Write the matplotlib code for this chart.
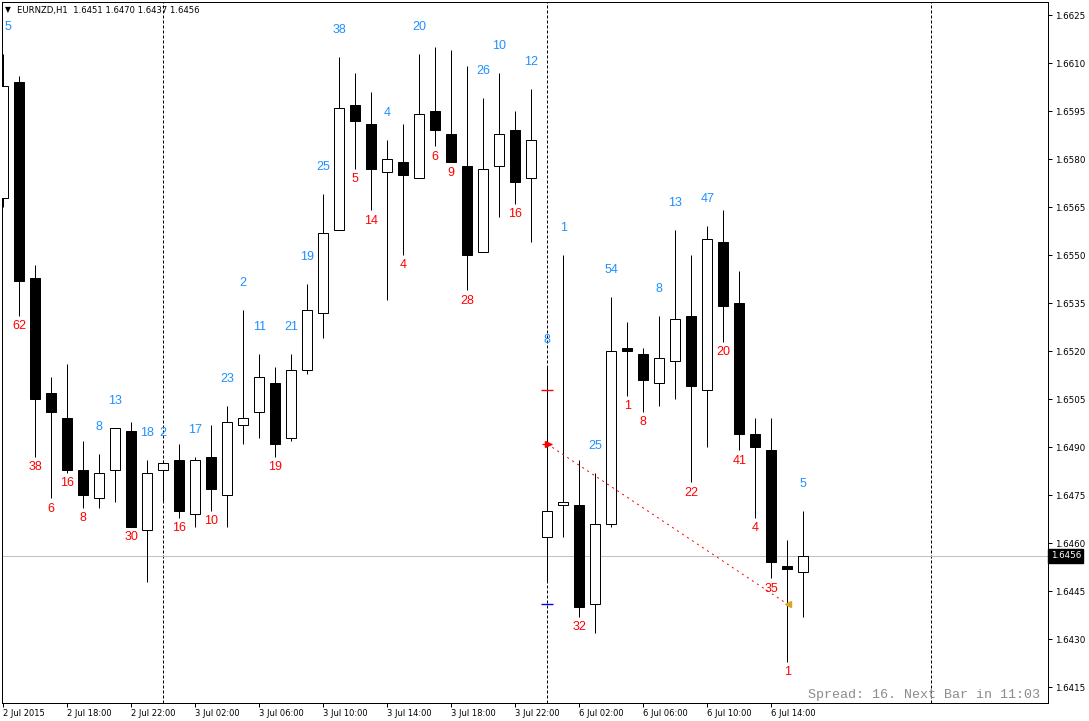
import matplotlib
matplotlib.use("Agg")
import matplotlib.pyplot as plt
import matplotlib.transforms as mtransforms

# ---------------- data ----------------
opens = [1.6568, 1.6604, 1.6543, 1.6507, 1.6499, 1.6483, 1.6474, 1.6483, 1.6495, 1.6464,
         1.6483, 1.6486, 1.6469, 1.6487, 1.6475, 1.6497, 1.6501, 1.6510, 1.6493, 1.6514,
         1.6532, 1.6558, 1.6597, 1.6591, 1.6576, 1.6579, 1.6574, 1.6595, 1.6588, 1.6578,
         1.6551, 1.6578, 1.6589, 1.6574, 1.6462, 1.6472, 1.6472, 1.6441, 1.6466, 1.6521,
         1.6519, 1.6510, 1.6517, 1.6531, 1.6508, 1.6554, 1.6535, 1.6494, 1.6489, 1.6453,
         1.6451]
highs = [1.6613, 1.6606, 1.6547, 1.6512, 1.6516, 1.6492, 1.6488, 1.6496, 1.6498, 1.6486,
         1.6486, 1.6491, 1.6487, 1.6497, 1.6503, 1.6533, 1.6519, 1.6515, 1.6519, 1.6541,
         1.6569, 1.6612, 1.6607, 1.6601, 1.6586, 1.6591, 1.6613, 1.6615, 1.6614, 1.6609,
         1.6599, 1.6607, 1.6595, 1.6602, 1.6515, 1.6550, 1.6486, 1.6482, 1.6537, 1.6529,
         1.6521, 1.6531, 1.6558, 1.6550, 1.6559, 1.6564, 1.6545, 1.6499, 1.6499, 1.6461,
         1.6470]
lows = [1.6565, 1.6531, 1.6487, 1.6474, 1.6482, 1.6471, 1.6471, 1.6473, 1.6465, 1.6448,
        1.6473, 1.6468, 1.6465, 1.6470, 1.6465, 1.6491, 1.6493, 1.6487, 1.6492, 1.6513,
        1.6524, 1.6558, 1.6577, 1.6564, 1.6536, 1.6550, 1.6574, 1.6584, 1.6579, 1.6539,
        1.6551, 1.6562, 1.6566, 1.6554, 1.6448, 1.6462, 1.6437, 1.6432, 1.6465, 1.6506,
        1.6501, 1.6503, 1.6505, 1.6479, 1.6490, 1.6523, 1.6489, 1.6468, 1.6449, 1.6423,
        1.6437]
closes = [1.6603, 1.6542, 1.6505, 1.6501, 1.6483, 1.6475, 1.6482, 1.6496, 1.6465, 1.6482,
          1.6485, 1.6470, 1.6486, 1.6477, 1.6498, 1.6499, 1.6512, 1.6491, 1.6514, 1.6533,
          1.6557, 1.6596, 1.6592, 1.6577, 1.6580, 1.6575, 1.6594, 1.6589, 1.6579, 1.6550,
          1.6577, 1.6588, 1.6573, 1.6586, 1.6470, 1.6473, 1.6440, 1.6466, 1.6520, 1.6520,
          1.6511, 1.6518, 1.6530, 1.6509, 1.6555, 1.6534, 1.6494, 1.6490, 1.6454, 1.6452,
          1.6456]
# body size labels (pips) as visible in the chart (first one is cut by the left edge)
body_labels = ["5", "62", "38", "6", "16", "8", "8", "13", "30", "18", "2", "16", "17", "10",
               "23", "2", "11", "19", "21", "19", "25", "38", "5", "14", "4", "4", "20", "6",
               "9", "28", "26", "10", "16", "12", "8", "1", "32", "25", "54", "1", "8", "8",
               "13", "22", "47", "20", "41", "4", "35", "1", "5"]

tick_idx = [0, 4, 8, 12, 16, 20, 24, 28, 32, 36, 40, 44, 48]
tick_labels = ["2 Jul 2015", "2 Jul 18:00", "2 Jul 22:00", "3 Jul 02:00", "3 Jul 06:00",
               "3 Jul 10:00", "3 Jul 14:00", "3 Jul 18:00", "3 Jul 22:00", "6 Jul 02:00",
               "6 Jul 06:00", "6 Jul 10:00", "6 Jul 14:00"]
day_separators = [10, 34, 58]
price_ticks = [1.6415, 1.6430, 1.6445, 1.6460, 1.6475, 1.6490, 1.6505, 1.6520, 1.6535,
               1.6550, 1.6565, 1.6580, 1.6595, 1.6610, 1.6625]
current_price = 1.6456
header = "EURNZD,H1  1.6451 1.6470 1.6437 1.6456"
spread_text = "Spread: 16. Next Bar in 11:03"

# trade objects
trade_open = (34, 1.6491)
trade_close = (49, 1.6441)
stop_level = 1.6508
take_level = 1.6441

# ---------------- figure ----------------
W, H = 1089, 721
fig = plt.figure(figsize=(W / 100, H / 100), dpi=100)
fig.patch.set_facecolor("white")
left_px, right_px, top_px, bot_px = 2, 1048, 1.5, 703
ax = fig.add_axes([left_px / W, 1 - bot_px / H, (right_px - left_px) / W, (bot_px - top_px) / H])
ax.set_facecolor("white")

px_per_bar = 16.0
x0 = (left_px - 3.3) / px_per_bar
ax.set_xlim(x0, x0 + (right_px - left_px) / px_per_bar)
ppy = 32000.0
ax.set_ylim(current_price - (bot_px - 556) / ppy, current_price + (556 - top_px) / ppy)

lw = 0.72
for s in ax.spines.values():
    s.set_linewidth(lw)
    s.set_color("black")

# separators
for d in day_separators:
    ax.axvline(d, color="black", lw=lw, linestyle=(0, (3, 2)), zorder=1)
ax.axhline(current_price, color="#C0C0C0", lw=lw, zorder=1)

# candles
bw = 0.62
for i, (o, h, l, c) in enumerate(zip(opens, highs, lows, closes)):
    ax.vlines(i, l, h, color="black", lw=lw, zorder=2)
    bull = c >= o
    bottom = min(o, c)
    height = max(abs(c - o), 0.00003)
    ax.bar(i, height, bottom=bottom, width=bw, color="white" if bull else "black",
           edgecolor="black", linewidth=lw, zorder=3)
    # keep the label inside the plot at the left edge
    dx = 3.6 if i == 0 else 0
    if bull:
        ax.annotate(body_labels[i], xy=(i, h), xytext=(dx, 19.4), textcoords="offset points",
                    ha="center", va="center", color="#1E90FF", fontsize=9,
                    family="Liberation Sans", zorder=4)
    else:
        ax.annotate(body_labels[i], xy=(i, l), xytext=(dx, -7.4), textcoords="offset points",
                    ha="center", va="center", color="#FF0000", fontsize=9,
                    family="Liberation Sans", zorder=4)

# trade objects
ax.plot([trade_open[0], trade_close[0]], [trade_open[1], trade_close[1]], color="red",
        lw=lw, linestyle=(0, (2, 4)), zorder=5)
ax.plot(trade_open[0], stop_level, marker="_", ms=8, mew=1.0, color="red", zorder=5)
ax.plot(trade_open[0], take_level, marker="_", ms=8, mew=1.0, color="#0000FF", zorder=5)
ax.plot(trade_open[0], trade_open[1], marker="_", ms=7, mew=1.0, color="red", zorder=6)
ax.plot(trade_open[0] + 0.05, trade_open[1], marker=">", ms=4, color="red", zorder=6)
ax.plot(trade_close[0] + 0.05, trade_close[1], marker="<", ms=5, color="#DAA520", zorder=6)

# axes ticks
ax.yaxis.tick_right()
ax.set_yticks(price_ticks)
ax.set_yticklabels([f"{p:.4f}" for p in price_ticks])
ax.tick_params(axis="y", direction="out", length=3, width=lw, pad=2, labelsize=6.3,
               colors="black")
ax.set_xticks(tick_idx)
ax.set_xticklabels(tick_labels)
ax.tick_params(axis="x", direction="out", length=3, width=lw, pad=1.5, labelsize=6.0)
for lbl in ax.get_xticklabels():
    lbl.set_ha("left")
for lbl in ax.get_xticklabels() + ax.get_yticklabels():
    lbl.set_family("DejaVu Sans")

# current price box
trans = mtransforms.blended_transform_factory(ax.transAxes, ax.transData)
ax.text(1.0025, current_price, f"{current_price:.4f}", transform=trans, ha="left", va="center",
        fontsize=6.3, color="white", family="DejaVu Sans",
        bbox=dict(boxstyle="square,pad=0.25", fc="black", ec="black"), zorder=10, clip_on=False)

# header
fig.text(5 / W, 1 - 10 / H, "\u25BC", fontsize=5.5, va="center", ha="left", family="DejaVu Sans")
fig.text(17 / W, 1 - 10 / H, header, fontsize=6.1, va="center", ha="left", family="DejaVu Sans")

# spread text
fig.text(1040 / W, 1 - 695 / H, spread_text, fontsize=9.6, va="center", ha="right",
         family="Liberation Mono", color="#8C8C8C")

fig.savefig("out.png", dpi=100, facecolor="white")
